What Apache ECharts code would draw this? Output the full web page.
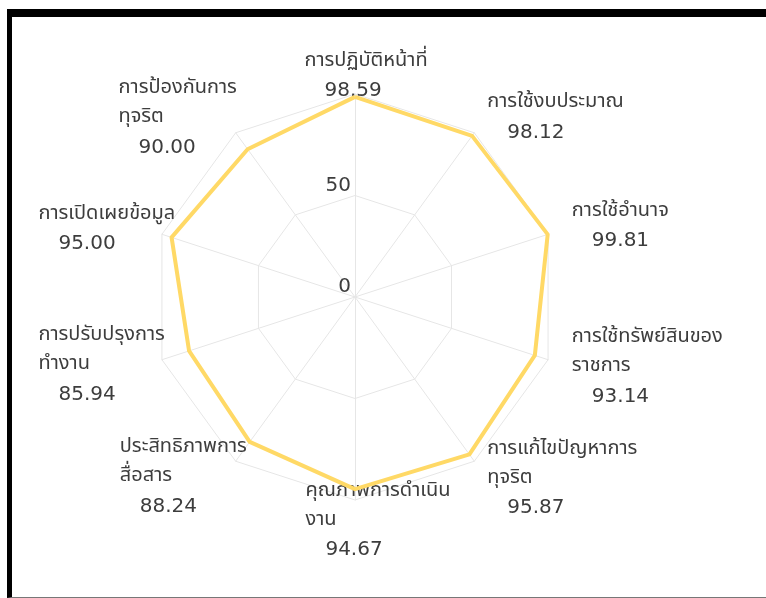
<!DOCTYPE html>
<html>
<head>
<meta charset="utf-8">
<script src="https://cdn.jsdelivr.net/npm/echarts@6/dist/echarts.min.js"></script>
<style>
html,body{margin:0;padding:0;background:#fff;}
#chart{position:absolute;left:0;top:0;width:766px;height:598px;}
#frame{position:absolute;left:7px;top:9px;width:759px;height:589px;border-top:8px solid #000;border-left:5px solid #000;border-bottom:1px solid #777;box-sizing:border-box;pointer-events:none;}
</style>
</head>
<body>
<div id="chart"></div>
<div id="frame"></div>
<script>
// Categories in clockwise order starting from the top
const categories = [
  'การปฏิบัติหน้าที่',
  'การใช้งบประมาณ',
  'การใช้อำนาจ',
  'การใช้ทรัพย์สินของ\nราชการ',
  'การแก้ไขปัญหาการ\nทุจริต',
  'คุณภาพการดำเนิน\nงาน',
  'ประสิทธิภาพการ\nสื่อสาร',
  'การปรับปรุงการ\nทำงาน',
  'การเปิดเผยข้อมูล',
  'การป้องกันการ\nทุจริต'
];
const scores = [98.59, 98.12, 99.81, 93.14, 95.87, 94.67, 88.24, 85.94, 95.00, 90.00];
const axisMax = 100;

// ECharts radar runs counter-clockwise from the top: reorder
const order = [0, 9, 8, 7, 6, 5, 4, 3, 2, 1];
// label placement tweaks per indicator (clockwise order)
const gaps = [-12, 22, 25, 25, 22, -23, -19, -3, -14, -2];
const pads = [
  [0, 0, 0, 22],
  [6, 0, 0, 0],
  [0, 0, 0, 0],
  [0, 0, 0, 0],
  [0, 0, 0, 0],
  [0, 0, 0, 46],
  [63, 0, 0, 0],
  [13, 0, 0, 0],
  [0, 0, 18, 0],
  [0, 0, 32, 0]
];
const indValues = order.map(i => scores[i]);
const valueByName = {};
categories.forEach((n, i) => { valueByName[n] = scores[i]; });

const chart = echarts.init(document.getElementById('chart'));
const textColor = '#3d3d3d';
const numFont = "'DejaVu Sans', sans-serif";
const thaiFont = "'Noto Sans Thai', 'Noto Sans', sans-serif";
chart.setOption({
  animation: false,
  radar: {
    center: [355, 297],
    radius: 203,
    startAngle: 90,
    splitNumber: 2,
    shape: 'polygon',
    nameGap: 5,
    indicator: order.map((i, k) => ({
      name: categories[i], min: 0, max: axisMax,
      nameGap: gaps[i],
      nameTextStyle: { padding: pads[i] },
      axisLabel: k === 0 ? {
        show: true, color: textColor, fontSize: 20, fontFamily: numFont,
        verticalAlign: 'bottom', margin: 4,
        formatter: v => (v >= axisMax ? '' : String(v))
      } : { show: false }
    })),
    axisName: {
      color: textColor,
      formatter: (name) => {
        const lines = name.split('\n').map(l => '{n|' + l + '}').join('\n');
        return lines + '\n{v|' + valueByName[name].toFixed(2) + '}';
      },
      rich: {
        n: { fontSize: 20, lineHeight: 29, color: textColor, align: 'left', fontFamily: thaiFont },
        v: { fontSize: 20, lineHeight: 30, color: textColor, align: 'left', fontFamily: numFont, padding: [0, 0, 0, 20] }
      }
    },
    axisLine: { lineStyle: { color: '#e6e6e6' } },
    splitLine: { lineStyle: { color: '#e6e6e6' } },
    splitArea: { show: false }
  },
  series: [{
    type: 'radar',
    symbol: 'none',
    lineStyle: { color: '#FFD966', width: 4 },
    data: [{ value: indValues, name: 'score' }]
  }]
});
</script>
</body>
</html>
